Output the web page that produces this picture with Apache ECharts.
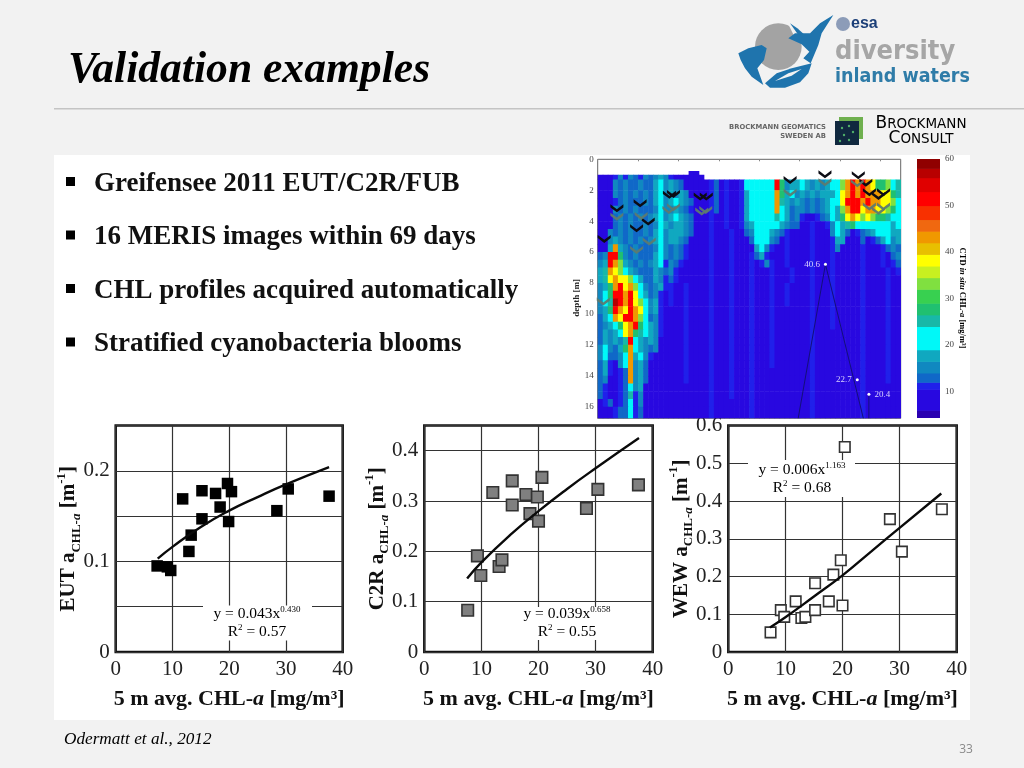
<!DOCTYPE html>
<html><head><meta charset="utf-8">
<style>html,body{margin:0;padding:0;background:#f2f2f2}#c{width:1024px;height:768px}</style>
<script src="https://cdn.jsdelivr.net/npm/echarts@6/dist/echarts.min.js"></script></head>
<body><div id="c"></div>
<script>
const slideTitle = "Validation examples";
const bullets = ["Greifensee 2011 EUT/C2R/FUB","16 MERIS images within 69 days","CHL profiles acquired automatically","Stratified cyanobacteria blooms"];

const eutX = [7.3,9.1,9.7,11.8,12.9,13.3,15.2,15.2,17.6,18.4,19.7,20.4,19.9,28.4,30.4,37.6];
const eutY = [.095,.094,.090,.169,.111,.129,.178,.147,.175,.160,.186,.177,.144,.156,.180,.172];
const eutFitX = [7.4,10,15,20,25,30,37.6];
const eutFitY = [.103,.116,.138,.156,.171,.185,.204];

const c2rX = [7.6,9.3,9.9,12.0,13.1,13.6,15.4,15.4,17.8,18.5,19.8,20.6,20.0,28.4,30.4,37.5];
const c2rY = [.083,.191,.152,.317,.170,.183,.340,.292,.313,.275,.308,.347,.260,.285,.323,.332];
const c2rFitX = [7.5,10,15,20,25,30,37.6];
const c2rFitY = [.146,.178,.232,.280,.324,.365,.425];

const wewX = [7.4,9.2,9.8,11.8,12.8,13.5,15.2,15.2,17.6,18.4,19.7,20.4,20.0,28.3,30.4,37.4];
const wewY = [.052,.111,.093,.134,.090,.093,.182,.111,.134,.205,.243,.543,.123,.352,.266,.378];
const wewFitX = [7.3,10,15,20,25,30,37.3];
const wewFitY = [.065,.092,.147,.203,.266,.329,.42];

// Depth section: one string per depth band, one letter per time column (spaces only for reading)
const heatEdges = [0.75,1.0,1.3,2,2.5,3,3.5,4,4.5,5,5.5,6,6.5,7,7.5,8,8.5,9,9.5,10,10.5,11,11.5,12,12.5,13,13.5,14,14.5,15,15.5,16,16.75];
const heatRows = [
"......... ........ .aa.. ......... ......... ......... .........",
"aaamcmcbmc bcdcmaaaaa a......... .......... .......... ..........",
"aaacbcbbcb bdecdcbaaa aambamaame eeeeekgcdd edcdcdeehj kjkjigghef",
"aaacbcbcbc bdecdcdcaa aambamaamd eeeeejgdec dcdcdddeij kjkjjjiigf",
"aaambcbbbc bdecdedcba aambamaamd eeeeejfdcd cbcbcdeeik kkjkjjiihe",
"aaacbcbcbb bceccdcbma aambamaamd eeeeejedbc cbcbcdedhj kkijjiihge",
"aaabcbcbcb cdecdedcba aamaamaamd eeeeefedbc maambcedgi jihihggfee",
"aaabcbcbbc bcedcddcba aamaamaamc deeeeedcbb aamaamcedf geeeeeeede",
"aacbcbcbbc bdecdddcba aamaaamaab ceeedcbmaa aamaaacedb ambcdeeedd",
"aacdcbcbcb cdecddcbaa aamaaamaaa beeecbamaa aamaaamdda aabambdecd",
"aadjdcbcbb bcecbcbmaa aamaaamaaa adecmaamaa aamaaamcaa aamaaambcb",
"bckkgcbcbb bdecbcbmaa aamaaamaaa mbdmaaamaa aamaaamaaa aamaaamabc",
"cdkjhdcbcb cdemcbmaaa aamaaamaaa mamcmaamaa aamaaamaaa aamaaamamb",
"dfjihedcbb bdcbcmaaaa aamaaamaaa maaamaaama aamaaamaaa aamaaaamam",
"dfijiihedb bdcmbmaaaa aamaaamaaa maaamaaama aamaaamaaa aamaaaamaa",
"cdgjkijhec bcdmmaamaa aamaaamaaa maaamaamaa aamaaamaaa aamaaaamaa",
"cegkkjkied bcmamaamaa aamaaamaaa maaamaamaa aamaaamaaa aamaaaamaa",
"ceflkjkihe cdmamaamaa aamaaamaaa maaamaamaa aamaaamaaa aamaaaamaa",
"cdgkjikjie cdmaaaamaa aamaaamaaa maaamaaaaa aamaaamaaa aamaaaamaa",
"bdejikkjhe bcmaaaamaa aamaaamaaa maaamaaaaa aamaaamaaa aamaaaamaa",
"bcdegijkge dcmaaaamaa aamaaamaaa maaamaaaaa aamaaamaaa aamaaaamaa",
"bdcdeijgfe dcmaaaamaa aamaaamaaa maaamaaaaa aamaaaaaaa aamaaaamaa",
"bdcdcfkedc dcaaaaamaa aamaaamaaa maaamaaaaa aamaaaaaaa aamaaaamaa",
"cecbdgjedc bcaaaaamaa aamaaamaaa maaamaaaaa aamaaaaaaa aamaaaamaa",
"cebbcejdec maaaaaamaa aamaaamaaa maaamaaaaa aamaaaaaaa aamaaaamaa",
"bdmacejcdb aaaaaaamaa aamaaamaaa maaamaaaaa aamaaaaaaa aamaaaamaa",
"bdmambjcdb aaaaaaamaa aamaaamaaa maaaaaaaaa aamaaaaaaa aamaaaamaa",
"bcaambjcdb aaaaaaamaa aamaaamaaa maaaaaaaaa aamaaaaaaa aamaaaamaa",
"bmaambecda aaaaaaaaaa aamaaamaaa maaaaaaaaa aamaaaaaaa aamaaaaaaa",
"bmaambfmca aaaaaaaaaa aamaaamaaa maaaaaaaaa aamaaaaaaa aamaaaaaaa",
"ambambemca aaaaaaaaaa aamaaaaaaa maaaaaaaaa aamaaaaaaa aamaaaaaaa",
"aaambbemba aaaaaaaaaa aamaaaaaaa maaaaaaaaa aamaaaaaaa aamaaaaaaa"
];
const heatLetters = ["a","m","b","c","d","e","f","g","h","i","j","k","l"];
const heatLevels  = [8,11,13,15,18,22,25,28,33,38,44,51,57];

const colorbarEdges = [4.3,6,10.5,12,14,16.5,19,24,26.5,29,32,34.5,37,39.5,42,44.5,47,50,53,56,58,60];
const colorbarColors = ["#2a00b0","#2808e0","#2020ea","#1068c8","#1088c0","#10a8c0","#00f8f8","#18b8a8","#20c070","#38d050","#80e040","#c8f020","#ffff00","#e8c000","#f09800","#f06810","#f83000","#ff0000","#e00000","#b80000","#900000"];
const colorbarTicks = [10,20,30,40,50,60];

const upperMarkerCol = [1.3,3.8,8.4,10.0,7.7,14.2,15.0,20.3,21.5,38.1,45.0,51.6,53.1,53.8,55.6,56.6];
const upperMarkerDepth = [5.15,3.17,2.85,4.03,4.46,2.3,2.24,2.41,2.41,1.34,0.97,1.03,1.51,2.13,2.37,2.13];
const lowerMarkerCol = [1.1,3.8,8.6,10.2,7.7,14.1,15.0,20.6,21.4,38.1,45.0,51.4,53.8,55.6,56.6];
const lowerMarkerDepth = [9.2,3.71,3.66,5.32,5.86,3.28,3.1,3.38,3.28,2.16,1.49,1.55,3.06,3.34,3.06];
const sampleCol = [45.1,51.4,53.7];
const sampleDepth = [6.79,14.25,15.2];
const sampleLabel = ["40.6","22.7","20.4"];
const sampleSide = ["left","left","right"];
const traceCol = [39.7,45.1,52.6,null,53.7,53.7];
const traceDepth = [16.75,6.79,16.75,null,15.2,16.75];

const zip = (a,b)=>a.map((v,i)=>[v,b[i]]);
const SERIF = '"Liberation Serif",serif';
const colorOf = v => { for(let i=0;i<colorbarColors.length;i++){ if(v<colorbarEdges[i+1]) return colorbarColors[i]; } return colorbarColors[colorbarColors.length-1]; };

const heatCells = [];
heatRows.forEach((row,r)=>{
  row.replace(/ /g,'').split('').forEach((ch,c)=>{
    const k = heatLetters.indexOf(ch);
    if(k>=0) heatCells.push([c,c+1,heatEdges[r],heatEdges[r+1],heatLevels[k]]);
  });
});
const barCells = colorbarColors.map((_,i)=>[0,1,colorbarEdges[i],colorbarEdges[i+1],colorbarEdges[i]+.01]);

const rectItem = (p,api)=>{
  const a = api.coord([api.value(0),api.value(2)]);
  const b = api.coord([api.value(1),api.value(3)]);
  return {type:'rect',shape:{x:a[0],y:Math.min(a[1],b[1]),width:b[0]-a[0]+.6,height:Math.abs(b[1]-a[1])+.6},
    style:{fill:colorOf(api.value(4))}};
};

const yFmt = v => { const t=v*10; return Math.abs(t-Math.round(t))<1e-6 ? (v===0?'0':v.toFixed(1)) : ''; };
const mkRich = sz => ({
  b:{fontFamily:SERIF,fontWeight:'bold',fontSize:sz,color:'#111'},
  i:{fontFamily:SERIF,fontWeight:'bold',fontStyle:'italic',fontSize:sz,color:'#111'},
  s:{fontFamily:SERIF,fontWeight:'bold',fontSize:13,color:'#111',verticalAlign:'bottom',lineHeight:28},
  si:{fontFamily:SERIF,fontWeight:'bold',fontStyle:'italic',fontSize:13,color:'#111',verticalAlign:'bottom',lineHeight:28},
  u:{fontFamily:SERIF,fontWeight:'bold',fontSize:13,color:'#111',verticalAlign:'top',lineHeight:28}
});
const xName = '{b|5 m avg. CHL-}{i|a}{b| [mg/m³]}';
const yName = n => '{b|'+n+' a}{s|CHL-}{si|a}{b| [m}{u|-1}{b|]}';

const scatterGrids = [
  {left:115.7,top:425.5,width:227,height:226.5},
  {left:424.3,top:425.5,width:228.4,height:226.5},
  {left:728.3,top:425.5,width:228.4,height:226.5}
];
const gridStyle = {show:true,backgroundColor:'#fff',borderColor:'#111',borderWidth:2.5};
const grids = scatterGrids.map(g=>Object.assign({},gridStyle,g)).concat([
  {left:597.7,top:159.3,width:303,height:259,show:true,backgroundColor:'#fff',borderColor:'#666',borderWidth:1},
  {left:917,top:159,width:23,height:259,show:false}
]);
const lineStyleGrid = {splitLine:{show:true,lineStyle:{color:'#333',width:1.2}}};
const xAxisFor = i => Object.assign({gridIndex:i,type:'value',min:0,max:40,interval:10,name:xName,nameLocation:'middle',nameGap:36,nameMoveOverlap:false,
  nameTextStyle:{rich:mkRich(22)},axisLine:{show:false},axisTick:{show:false},
  axisLabel:{fontFamily:SERIF,fontSize:21,color:'#222',margin:7,hideOverlap:false}},lineStyleGrid);
const yAxisFor = (i,max,iv,name,gap)=>Object.assign({gridIndex:i,type:'value',min:0,max:max,interval:iv,name:yName(name),nameLocation:'middle',nameRotate:90,nameGap:gap,nameMoveOverlap:false,
  nameTextStyle:{rich:mkRich(21)},axisLine:{show:false},axisTick:{show:false},
  axisLabel:{fontFamily:SERIF,fontSize:21,color:'#222',margin:6,formatter:yFmt,hideOverlap:false}},lineStyleGrid);

const scatterSeries = (i,xs,ys,fx,fy,fill,border)=>[
  {type:'scatter',xAxisIndex:i,yAxisIndex:i,data:zip(xs,ys),symbol:'rect',symbolSize:fill==='#fff'?10.5:11.5,z:3,
    itemStyle:{color:fill,borderColor:border,borderWidth:fill==='#000'?0:1.6,opacity:1}},
  {type:'line',xAxisIndex:i,yAxisIndex:i,data:zip(fx,fy),smooth:true,showSymbol:false,silent:true,z:4,
    lineStyle:{color:'#0a0a0a',width:2.4}}
];

const chevron = 'path://M0 0 L10 8 L20 0 L20 5 L10 13 L0 5 Z';
const series = [
  ...scatterSeries(0,eutX,eutY,eutFitX,eutFitY,'#000','#000'),
  ...scatterSeries(1,c2rX,c2rY,c2rFitX,c2rFitY,'#808080','#333'),
  ...scatterSeries(2,wewX,wewY,wewFitX,wewFitY,'#fff','#333'),
  {type:'custom',xAxisIndex:3,yAxisIndex:3,data:heatCells,renderItem:rectItem,encode:{x:[0,1],y:[2,3]},clip:true,silent:true,z:2},
  {type:'line',xAxisIndex:3,yAxisIndex:3,data:zip(traceCol,traceDepth),showSymbol:false,connectNulls:false,silent:true,z:3,
    lineStyle:{color:'#14107a',width:1}},
  {type:'scatter',xAxisIndex:3,yAxisIndex:3,data:zip(upperMarkerCol,upperMarkerDepth),symbol:chevron,symbolSize:[13,8],z:5,
    itemStyle:{color:'#0c0c14',opacity:1}},
  {type:'scatter',xAxisIndex:3,yAxisIndex:3,data:zip(lowerMarkerCol,lowerMarkerDepth),symbol:chevron,symbolSize:[13,8],z:5,
    itemStyle:{color:'#5d7a70',opacity:.95}},
  {type:'scatter',xAxisIndex:3,yAxisIndex:3,symbol:'circle',symbolSize:3,z:6,
    data:sampleCol.map((c,i)=>({value:[c,sampleDepth[i]],label:{position:sampleSide[i]}})),
    itemStyle:{color:'#fff',opacity:1},
    label:{show:true,fontFamily:SERIF,fontSize:9,color:'#d8d0ff',distance:4,formatter:p=>sampleLabel[p.dataIndex]}},
  {type:'custom',xAxisIndex:4,yAxisIndex:4,data:barCells,renderItem:rectItem,encode:{x:[0,1],y:[2,3]},clip:true,silent:true,z:2}
];

const T = (text,x,y,font,fill,extra)=>({type:'text',x:x,y:y,z:50,silent:true,
  style:Object.assign({text:text,font:font,fill:fill,verticalAlign:'middle'},extra||{})});
const fitRich = {
  n:{fontFamily:SERIF,fontSize:15.5,color:'#444',lineHeight:18},
  p:{fontFamily:SERIF,fontSize:9,color:'#444',verticalAlign:'top',lineHeight:18}
};
const fitBox = (x,y,w,h,cx,yc,eq,expo,r2)=>[
  {type:'rect',z:40,silent:true,shape:{x:x,y:y,width:w,height:h},style:{fill:'#fff'}},
  {type:'text',z:41,silent:true,x:cx,y:yc,style:{text:'{n|'+eq+'}{p|'+expo+'}',rich:fitRich,align:'center',verticalAlign:'middle'}},
  {type:'text',z:41,silent:true,x:cx,y:yc+18,style:{text:'{n|R}{p|2}{n| = '+r2+'}',rich:fitRich,align:'center',verticalAlign:'middle'}}
];

const BLUE='#1f74ad';
const logo = {type:'group',x:720,y:5,scaleX:1/3,scaleY:1/3,z:30,silent:true,children:[
  {type:'circle',shape:{cx:175,cy:125,r:70},style:{fill:'#a3a3a3'}},
  {type:'polygon',shape:{points:[[205,58],[245,56],[245,105],[222,92]]},style:{fill:'#f2f2f2'}},
  {type:'polygon',shape:{points:[[340,30],[300,55],[270,85],[225,85],[205,100],[245,118],[268,140],[250,160],[272,175],[295,120],[305,85]]},style:{fill:BLUE}},
  {type:'polygon',shape:{points:[[210,55],[232,70],[252,88],[235,90]]},style:{fill:BLUE}},
  {type:'polygon',shape:{points:[[55,145],[85,130],[125,120],[140,130],[132,165],[112,190],[130,240],[95,215],[75,190],[62,165]]},style:{fill:BLUE}},
  {type:'polygon',shape:{points:[[135,235],[170,205],[215,190],[275,175],[265,205],[240,232],[195,248],[150,248]]},style:{fill:BLUE}},
  {type:'polygon',shape:{points:[[165,228],[205,205],[245,192],[215,212]]},style:{fill:'#f2f2f2'}}
]};
const bc = {type:'group',x:835,y:118,z:30,silent:true,children:[
  {type:'rect',shape:{x:4,y:-1,width:24,height:22},style:{fill:'#6fb04f'}},
  {type:'rect',shape:{x:0,y:3,width:24,height:24},style:{fill:'#10283f'}},
  {type:'circle',shape:{cx:7,cy:10,r:1.2},style:{fill:'#4fae6a'}},
  {type:'circle',shape:{cx:14,cy:8,r:1.2},style:{fill:'#4fae6a'}},
  {type:'circle',shape:{cx:9,cy:17,r:1.2},style:{fill:'#4fae6a'}},
  {type:'circle',shape:{cx:18,cy:14,r:1.2},style:{fill:'#4fae6a'}},
  {type:'circle',shape:{cx:14,cy:22,r:1.2},style:{fill:'#4fae6a'}},
  {type:'circle',shape:{cx:5,cy:23,r:1.2},style:{fill:'#4fae6a'}}
]};
const capRich = {l:{fontFamily:'"DejaVu Sans",sans-serif',fontSize:17,color:'#1c2c48'},s:{fontFamily:'"DejaVu Sans",sans-serif',fontSize:13.5,color:'#1c2c48'}};

const graphic = [
  {type:'rect',z:-5,silent:true,shape:{x:54,y:155,width:916,height:565},style:{fill:'#fff'}},
  {type:'rect',z:1,silent:true,shape:{x:54,y:108,width:970,height:1.5},style:{fill:'#c4c4c4'}},
  T(slideTitle,68,71,'italic bold 43.6px '+SERIF,'#000'),
  ...bullets.flatMap((b,i)=>{const y=182+53.5*i;return [
    {type:'rect',z:50,silent:true,shape:{x:66,y:y-5,width:9,height:9},style:{fill:'#000'}},
    T(b,94,y+2,'bold 27px '+SERIF,'#111')];}),
  T('Odermatt et al., 2012',64,739,'italic 17.2px '+SERIF,'#000'),
  T('33',966,750,'12px "Open Sans",sans-serif','#8a8a8a',{align:'center'}),
  logo,
  {type:'circle',z:30,silent:true,shape:{cx:843,cy:24,r:7},style:{fill:'#8c9cb8'}},
  T('esa',851,24,'bold 16px "Liberation Sans",sans-serif','#1c3f78'),
  T('diversity',835,52,'bold 27px "DejaVu Sans Condensed","DejaVu Sans",sans-serif','#a6a6a6'),
  T('inland waters',835,77,'bold 19.5px "DejaVu Sans Condensed","DejaVu Sans",sans-serif','#2f7ca8'),
  T('BROCKMANN GEOMATICS',826,127,'bold 6.8px "DejaVu Sans",sans-serif','#666',{align:'right'}),
  T('SWEDEN AB',826,136,'bold 6.8px "DejaVu Sans",sans-serif','#666',{align:'right'}),
  bc,
  {type:'text',z:50,silent:true,x:921,y:124,style:{text:'{l|B}{s|ROCKMANN}',rich:capRich,align:'center',verticalAlign:'middle'}},
  {type:'text',z:50,silent:true,x:921,y:139,style:{text:'{l|C}{s|ONSULT}',rich:capRich,align:'center',verticalAlign:'middle'}},
  {type:'text',z:50,silent:true,x:962,y:298,rotation:-Math.PI/2,
    style:{text:'{a|CTD }{c|in situ}{a| CHL-}{c|a}{a| [mg/m³]}',align:'center',verticalAlign:'middle',
      rich:{a:{fontFamily:SERIF,fontWeight:'bold',fontSize:8.5,color:'#222'},c:{fontFamily:SERIF,fontWeight:'bold',fontStyle:'italic',fontSize:8.5,color:'#222'}}}},
  {type:'text',z:50,silent:true,x:577,y:298,rotation:Math.PI/2,
    style:{text:'depth [m]',font:'bold 9px '+SERIF,fill:'#222',align:'center',verticalAlign:'middle'}},
  ...fitBox(203,605.5,109,35,257,614,'y = 0.043x','0.430','0.57'),
  ...fitBox(523,607,87,33,567,614,'y = 0.039x','0.658','0.55'),
  ...fitBox(748,460,107,37,802,470,'y = 0.006x','1.163','0.68')
];

const option = {
  backgroundColor:'#f2f2f2',animation:false,
  grid:grids,
  xAxis:[xAxisFor(0),xAxisFor(1),xAxisFor(2),
    {gridIndex:3,type:'value',min:0,max:60,interval:8,position:'top',axisLine:{show:false},axisLabel:{show:false},splitLine:{show:false},
      axisTick:{show:true,inside:true,length:2,lineStyle:{color:'#888'}}},
    {gridIndex:4,type:'value',min:0,max:1,show:false}],
  yAxis:[yAxisFor(0,.25,.05,'EUT',33),yAxisFor(1,.45,.1,'C2R',33),yAxisFor(2,.6,.1,'WEW',33),
    {gridIndex:3,type:'value',inverse:true,min:0,max:16.75,interval:2,axisLine:{show:false},splitLine:{show:false},
      axisTick:{show:true,inside:true,length:2,lineStyle:{color:'#888'}},
      axisLabel:{fontFamily:SERIF,fontSize:9,color:'#444',margin:4,formatter:v=>v%2===0?String(v):''}},
    {gridIndex:4,type:'value',min:4.3,max:60,position:'right',axisLine:{show:false},splitLine:{show:false},
      axisTick:{show:true,length:3,lineStyle:{color:'#555'},customValues:colorbarTicks},
      axisLabel:{fontFamily:SERIF,fontSize:9,color:'#444',margin:5,customValues:colorbarTicks}}
  ],
  series:series,
  graphic:graphic
};
const chart = echarts.init(document.getElementById('c'),null,{width:1024,height:768});
chart.setOption(option);
</script></body></html>
